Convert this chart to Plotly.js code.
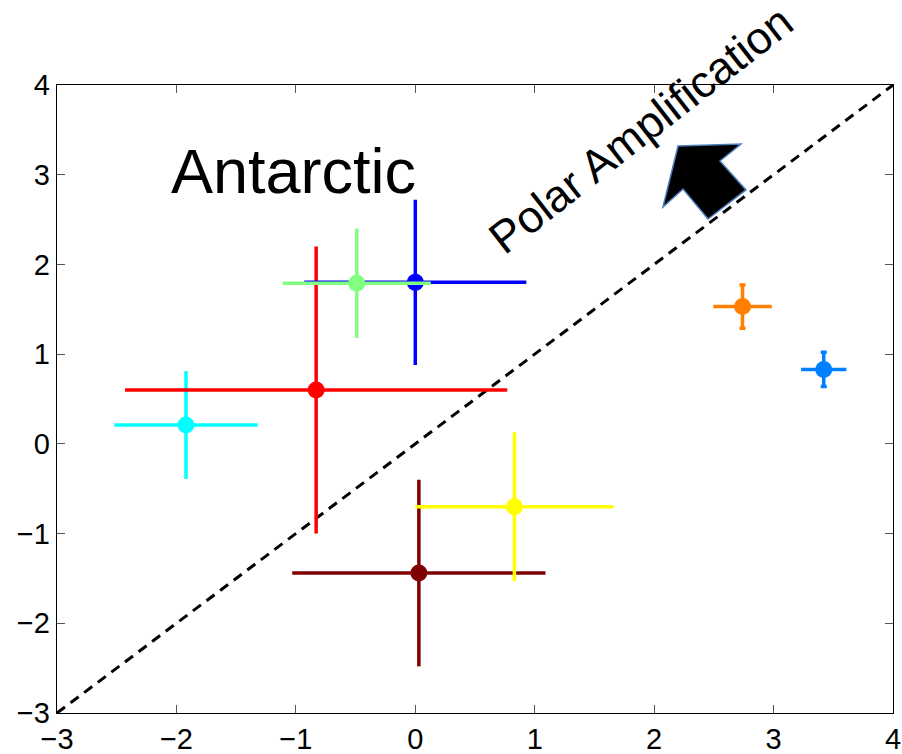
<!DOCTYPE html>
<html>
<head>
<meta charset="utf-8">
<script src="https://cdn.plot.ly/plotly-3.0.1.min.js"></script>
<style>html,body{margin:0;padding:0;background:#fff;}#chart{width:902px;height:754px;}</style>
</head>
<body>
<div id="chart"></div>
<script>
// Data
const pointColors = ['#00FFFF', '#FF0000', '#0000FF', '#80FF80', '#800000', '#FFFF00', '#FF8000', '#0080FF'];
const xValues     = [-1.92, -0.83, 0.00, -0.49, 0.03, 0.83, 2.74, 3.42];
const yValues     = [0.21, 0.60, 1.80, 1.79, -1.44, -0.70, 1.53, 0.83];
const xErrors     = [0.60, 1.60, 0.93, 0.62, 1.06, 0.83, 0.245, 0.19];
const yErrors     = [0.60, 1.60, 0.92, 0.61, 1.04, 0.83, 0.24, 0.19];
const yCapWidths  = [0, 0, 0, 0, 0, 0, 3, 3];

const lineX = [-3, 4];
const lineY = [-3, 4];

const tickVals = [-3, -2, -1, 0, 1, 2, 3, 4];

// Arrow outline (data coordinates)
const arrowX = [2.074, 2.200, 2.727, 2.551, 2.769, 2.451, 2.242];
const arrowY = [2.640, 3.320, 3.342, 3.153, 2.830, 2.506, 2.841];

const traces = [];
traces.push({
  x: lineX, y: lineY, mode: 'lines', type: 'scatter',
  line: {color: '#000', width: 3, dash: '10px,7px'},
  hoverinfo: 'skip', showlegend: false
});
for (let i = 0; i < xValues.length; i++) {
  traces.push({
    x: [xValues[i]], y: [yValues[i]], mode: 'markers', type: 'scatter',
    marker: {color: pointColors[i], size: 17},
    error_x: {type: 'data', array: [xErrors[i]], visible: true, color: pointColors[i], thickness: 3.5, width: 0},
    error_y: {type: 'data', array: [yErrors[i]], visible: true, color: pointColors[i], thickness: 3.5, width: yCapWidths[i]},
    showlegend: false
  });
}

let path = 'M ' + arrowX[0] + ',' + arrowY[0];
for (let i = 1; i < arrowX.length; i++) path += ' L ' + arrowX[i] + ',' + arrowY[i];
path += ' Z';

const fontFam = 'Liberation Sans, Arial, Helvetica, sans-serif';
const axisCommon = {
  range: [-3, 4], tickvals: tickVals, ticks: 'inside', ticklen: 8, tickwidth: 1,
  tickcolor: '#555', showline: true, linecolor: '#000', linewidth: 1.3, mirror: 'ticks',
  showgrid: false, zeroline: false, tickfont: {family: fontFam, size: 29, color: '#000'}
};

const layout = {
  width: 902, height: 754,
  margin: {l: 57, r: 9, t: 85, b: 41},
  paper_bgcolor: '#fff', plot_bgcolor: '#fff',
  xaxis: Object.assign({}, axisCommon),
  yaxis: Object.assign({}, axisCommon),
  shapes: [{
    type: 'path', path: path, xref: 'x', yref: 'y',
    fillcolor: '#000', line: {color: '#4A7EBB', width: 1.5}, layer: 'above'
  }],
  annotations: [
    {x: -1.02, y: 3.04, xref: 'x', yref: 'y', text: 'Antarctic', showarrow: false,
     xanchor: 'center', yanchor: 'middle', font: {family: fontFam, size: 63, color: '#000'}},
    {x: 1.89, y: 3.50, xref: 'x', yref: 'y', text: 'Polar Amplification', showarrow: false,
     textangle: -38, xanchor: 'center', yanchor: 'middle', font: {family: fontFam, size: 45, color: '#000'}}
  ]
};

Plotly.newPlot('chart', traces, layout, {displayModeBar: false, staticPlot: true});
</script>
</body>
</html>
